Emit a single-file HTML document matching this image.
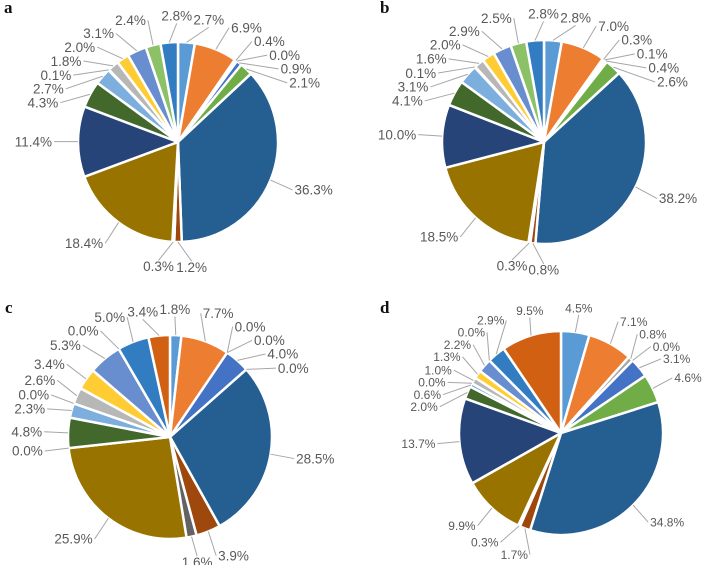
<!DOCTYPE html>
<html><head><meta charset="utf-8">
<style>
html,body{margin:0;padding:0;background:#fff;}
svg{display:block;font-family:"Liberation Sans",sans-serif;}
.lbl{fill:#595959;}
.panel{font-family:"Liberation Serif",serif;font-weight:bold;font-size:17px;fill:#111;}
</style></head>
<body>
<svg id="chart" width="708" height="565" viewBox="0 0 708 565"></svg>
<script>
// slice categories (Excel default series 1..20)
const categories = ["s1","s2","s3","s4","s5","s6","s7","s8","s9","s10","s11","s12","s13","s14","s15","s16","s17","s18","s19","s20"];
const colors = ["#5B9BD5","#ED7D31","#A5A5A5","#FFC000","#4472C4","#70AD47","#255E91","#9E480E","#636363","#997300","#264478","#43682B","#7CAFDD","#F1975A","#B7B7B7","#FFCD33","#698ED0","#8CC168","#327DC2","#D26012"];
const valuesA = [2.7,6.9,0.4,0.0,0.9,2.1,36.3,1.2,0.3,18.4,11.4,4.3,2.7,0.1,1.8,2.0,3.1,2.4,2.8,0.0];
const valuesB = [2.8,7.0,0.3,0.1,0.4,2.6,38.2,0.8,0.3,18.5,10.0,4.1,3.1,0.1,1.6,2.0,2.9,2.5,2.8,0.0];
const valuesC = [1.8,7.7,0.0,0.0,4.0,0.0,28.5,3.9,1.6,25.9,0.0,4.8,2.3,0.0,2.6,3.4,5.3,0.0,5.0,3.4];
const valuesD = [4.5,7.1,0.8,0.0,3.1,4.6,34.8,1.7,0.3,9.9,13.7,2.0,0.6,0.0,1.0,1.3,2.2,0.0,2.9,9.5];
const panelLetters = ["a","b","c","d"];
const showLabelA = valuesA.map((v,i)=>i<19);
const showLabelB = valuesB.map((v,i)=>i<19);
const showLabelC = valuesC.map(()=>true);
const showLabelD = valuesD.map(()=>true);

const NS="http://www.w3.org/2000/svg";
const svg=document.getElementById('chart');
function mk(tag,attrs,parent){const e=document.createElementNS(NS,tag);for(const k in attrs)e.setAttribute(k,attrs[k]);(parent||svg).appendChild(e);return e;}

function drawPie(values,show,cx,cy,r,letter,lx,ly,fs,gap){
  const g=mk('g',{});
  
  
  const t=mk('text',{x:lx,y:ly,class:'panel'},g);
  t.textContent=letter;
  
  
  const total=values.reduce((a,b)=>a+b,0);
  const angle=v=>v/total*2*Math.PI;
  let a0=-Math.PI/2;
  const labels=[];
  values.forEach((v,i)=>{
    const a1=a0+angle(v);
    const mid=(a0+a1)/2;
    if(v>0){
      const x0=cx+r*Math.cos(a0),y0=cy+r*Math.sin(a0);
      const x1=cx+r*Math.cos(a1),y1=cy+r*Math.sin(a1);
      const large=(a1-a0)>Math.PI?1:0;
      const p=mk('path',{d:`M${cx},${cy}L${x0},${y0}A${r},${r} 0 ${large} 1 ${x1},${y1}Z`,fill:colors[i],stroke:'#fff','stroke-width':2.5,'stroke-linejoin':'round'},g);
      
      
    }
    if(show[i]) labels.push({i:i,v:v,mid:mid,th:mid,txt:v.toFixed(1)+'%'});
    a0=a1;
  });
  const R=r+gap;
  function box(L){
    const w=L.txt.length*fs*0.55,h=fs;
    const tx=cx+R*Math.cos(L.th),ty=cy+R*Math.sin(L.th)+fs*0.35;
    const c=Math.cos(L.th);
    const anchor=c>=0.25?'start':(c<=-0.25?'end':'middle');
    const bx=anchor==='start'?tx:(anchor==='end'?tx-w:tx-w/2);
    return {tx,ty,anchor,x:bx,y:ty-fs*0.8,w,h};
  }
  function wrap(d){while(d>Math.PI)d-=2*Math.PI;while(d<=-Math.PI)d+=2*Math.PI;return d;}
  for(let it=0;it<800;it++){
    let moved=false;
    for(let a=0;a<labels.length;a++)for(let b=a+1;b<labels.length;b++){
      const A=box(labels[a]),B=box(labels[b]);
      if(A.x<B.x+B.w+2&&A.x+A.w+2>B.x&&A.y<B.y+B.h&&A.y+A.h>B.y){
        const d=wrap(labels[b].th-labels[a].th);
        const s=d>=0?1:-1;
        labels[a].th-=0.006*s;labels[b].th+=0.006*s;moved=true;
      }
    }
    if(!moved)break;
  }
  labels.forEach(L=>{
    const B=box(L);
    const ex=cx+r*Math.cos(L.mid),ey=cy+r*Math.sin(L.mid);
    const lxp=B.anchor==='start'?B.x-2:(B.anchor==='end'?B.x+B.w+2:B.x+B.w/2);
    const lyp=B.anchor==='middle'?(Math.sin(L.th)<0?B.y+B.h:B.y):B.ty-fs*0.35;
    const ln=mk('polyline',{points:`${ex},${ey} ${lxp},${lyp}`,fill:'none',stroke:'#a6a6a6','stroke-width':1},g);
    
    
    const tl=mk('text',{x:B.tx,y:B.ty,class:'lbl','text-anchor':B.anchor,'font-size':fs},g);
    tl.textContent=L.txt;
    
    
  });
}
drawPie(valuesA,showLabelA,178,142,100,panelLetters[0],4,13,13.5,26);
drawPie(valuesB,showLabelB,544,142,102,panelLetters[1],380,13,13.5,26);
drawPie(valuesC,showLabelC,170,437,102,panelLetters[2],5,313,13.5,26);
drawPie(valuesD,showLabelD,561,433,102,panelLetters[3],380,313,12,24);
</script>
</body></html>
